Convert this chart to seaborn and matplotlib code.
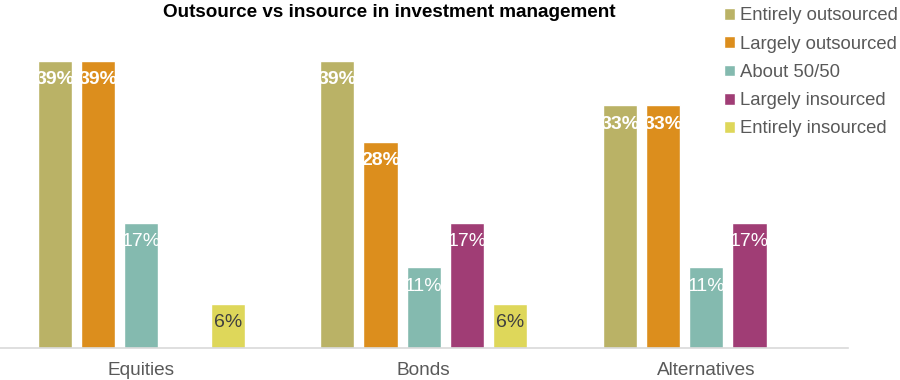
import numpy as np
import pandas as pd
import matplotlib
matplotlib.use("Agg")
import matplotlib.pyplot as plt
import seaborn as sns

categories = ["Equities", "Bonds", "Alternatives"]
series = ["Entirely outsourced", "Largely outsourced", "About 50/50",
          "Largely insourced", "Entirely insourced"]
entirely_out = [39, 39, 33]
largely_out = [39, 28, 33]
about_half = [17, 11, 11]
largely_in = [None, 17, 17]
entirely_in = [6, 6, None]
title = "Outsource vs insource in investment management"

colors = ["#BAB266", "#DC8E1D", "#84BAAF", "#A03D75", "#DED75A"]

rows = []
for s, vals in zip(series, [entirely_out, largely_out, about_half, largely_in, entirely_in]):
    for c, v in zip(categories, vals):
        if v is not None:
            rows.append({"category": c, "series": s, "value": v})
df = pd.DataFrame(rows)

sns.set_theme(style="white")
plt.rcParams['font.family'] = ['Liberation Sans', 'DejaVu Sans']

fig = plt.figure(figsize=(9, 3.8), dpi=100)
ax = fig.add_axes([0.0, 0.0842, 0.9417, 0.858])

sns.barplot(data=df, x="category", y="value", hue="series", order=categories,
            hue_order=series, palette=colors, width=0.765, gap=0.21,
            saturation=1, ax=ax, legend=True, errorbar=None)

ax.set_ylim(0, 44.3)
ax.set_xlim(-0.5, 2.5)
for sp in ["top", "right", "left"]:
    ax.spines[sp].set_visible(False)
ax.spines["bottom"].set_color("#D9D9D9")
ax.spines["bottom"].set_linewidth(1.2)
ax.set_yticks([])
ax.set_xlabel("")
ax.set_ylabel("")
ax.tick_params(axis="x", length=0, labelsize=13.7, labelcolor="#595959", pad=10)

for i, cont in enumerate(ax.containers):
    for bar in cont:
        h = bar.get_height()
        if np.isnan(h) or h == 0:
            continue
        x = bar.get_x() + bar.get_width() / 2
        if i == 4:
            col, fw = "#404040", "normal"
        elif h >= 20:
            col, fw = "white", "bold"
        else:
            col, fw = "white", "normal"
        ax.annotate(f"{h:.0f}%", (x, h), xytext=(0, -19), textcoords="offset pixels",
                    ha="center", va="center", color=col, fontsize=14, fontweight=fw)

leg = ax.legend(loc="upper left", bbox_to_anchor=(0.845, 1.0675), frameon=False,
                fontsize=13.3, handlelength=0.6, handleheight=0.6, handletextpad=0.3,
                labelspacing=0.61, borderaxespad=0)
for t in leg.get_texts():
    t.set_color("#595959")

fig.text(0.433, 0.968, title, ha="center", va="center", fontsize=13.6,
         fontweight="bold", color="black")

fig.savefig("out.png", dpi=100)
